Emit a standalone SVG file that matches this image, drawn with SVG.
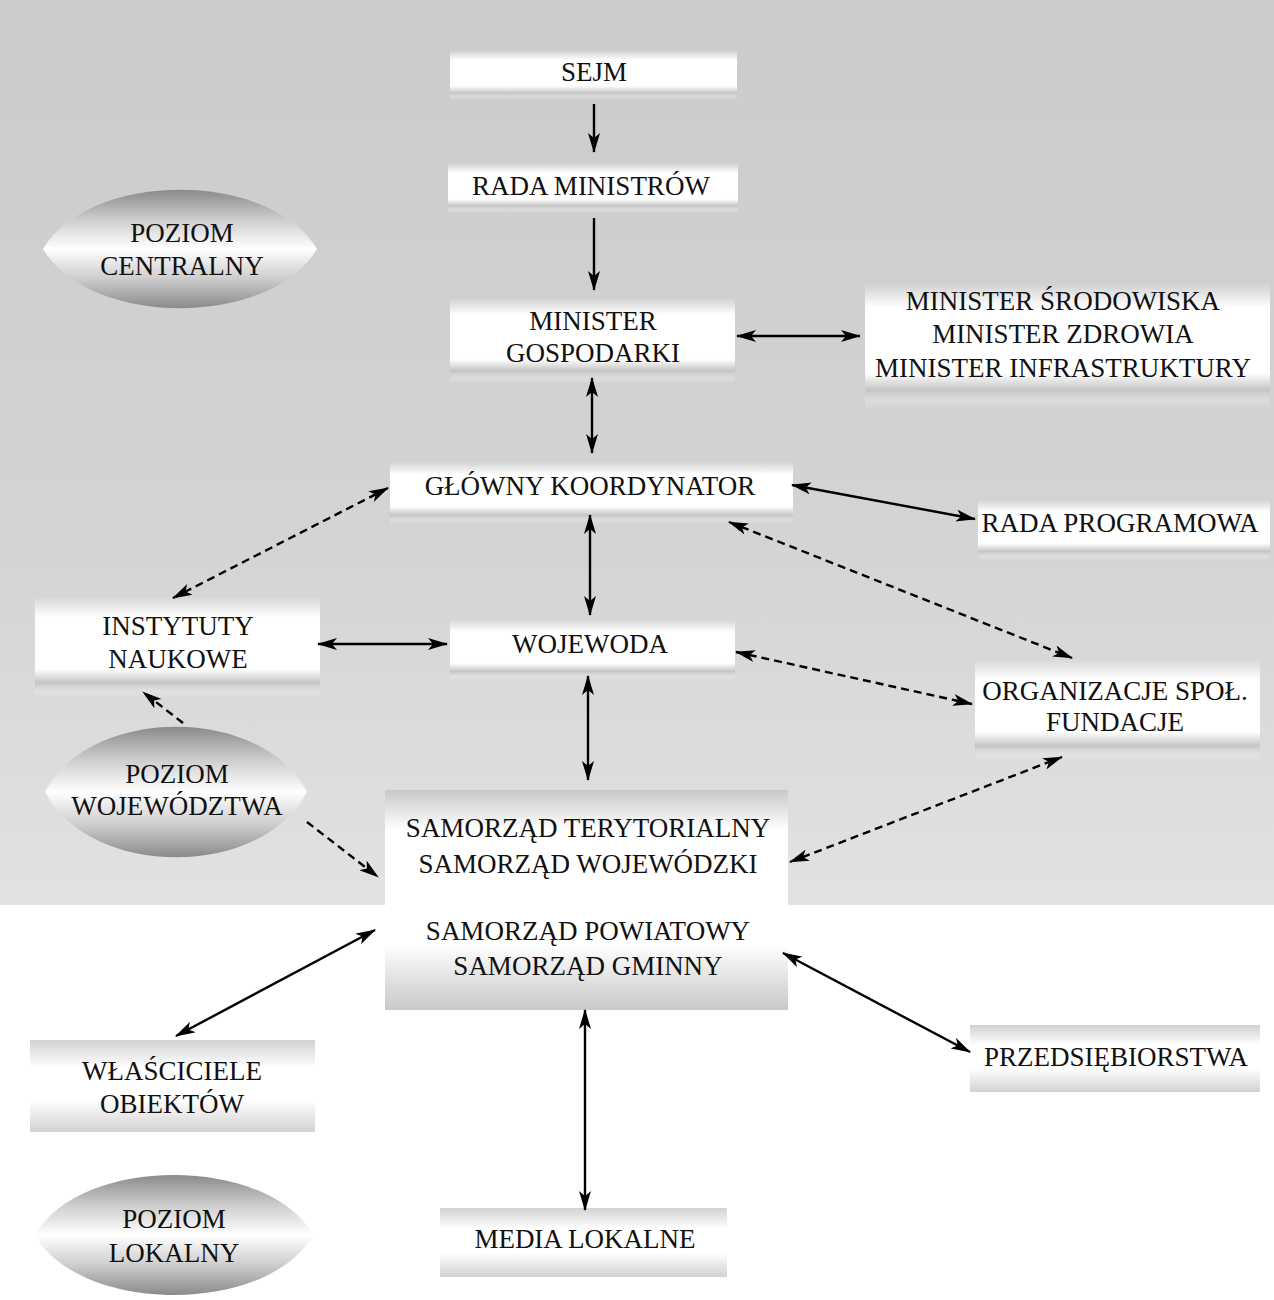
<svg xmlns="http://www.w3.org/2000/svg" width="1274" height="1300" viewBox="0 0 1274 1300" font-family="'Liberation Serif', 'DejaVu Serif', serif">
<defs>
<linearGradient id="bg" x1="0" y1="0" x2="0" y2="1">
<stop offset="0" stop-color="#cbcbcb"/>
<stop offset="0.6" stop-color="#d4d4d4"/>
<stop offset="1" stop-color="#e2e2e2"/>
</linearGradient>
<linearGradient id="box" x1="0" y1="0" x2="0" y2="1">
<stop offset="0" stop-color="#ffffff" stop-opacity="0"/>
<stop offset="0.2" stop-color="#ffffff"/>
<stop offset="0.72" stop-color="#ffffff"/>
<stop offset="0.86" stop-color="#c4c4c4"/>
<stop offset="1" stop-color="#ffffff" stop-opacity="0"/>
</linearGradient>
<linearGradient id="boxw" x1="0" y1="0" x2="0" y2="1">
<stop offset="0" stop-color="#d2d2d2"/>
<stop offset="0.3" stop-color="#ffffff"/>
<stop offset="0.65" stop-color="#ffffff"/>
<stop offset="1" stop-color="#d2d2d2"/>
</linearGradient>
<linearGradient id="sam" x1="0" y1="0" x2="0" y2="1">
<stop offset="0" stop-color="#c8c8c8"/>
<stop offset="0.18" stop-color="#ffffff"/>
<stop offset="0.7" stop-color="#ffffff"/>
<stop offset="1" stop-color="#c8c8c8"/>
</linearGradient>
<linearGradient id="ell" x1="0" y1="0" x2="0" y2="1">
<stop offset="0" stop-color="#8a8a8a"/>
<stop offset="0.25" stop-color="#cdcdcd"/>
<stop offset="0.5" stop-color="#ffffff"/>
<stop offset="0.75" stop-color="#cdcdcd"/>
<stop offset="1" stop-color="#8a8a8a"/>
</linearGradient>
<marker id="ah" viewBox="0 0 20 12" refX="19" refY="6" markerWidth="20" markerHeight="12" markerUnits="userSpaceOnUse" orient="auto-start-reverse">
<path d="M0,0 L20,6 L0,12 L5,6 z" fill="#000"/>
</marker>
</defs>
<style>
text{font-family:"Liberation Serif","DejaVu Serif",serif;font-size:27px;fill:#111;text-anchor:middle}
.c line{stroke:#000;stroke-width:2.4}
.c .d{stroke-dasharray:8 5}
.b{fill:url(#box)}
.w{fill:url(#boxw)}
.e{fill:url(#ell)}
</style>
<rect x="0" y="0" width="1274" height="905" fill="url(#bg)"/>
<rect x="0" y="905" width="1274" height="395" fill="#ffffff"/>

<g id="sejm"><rect class="b" x="450" y="50" width="287" height="50"/><text x="594" y="81">SEJM</text></g>
<g id="rada-ministrow"><rect class="b" x="448" y="163" width="290" height="50"/><text x="591" y="195">RADA MINISTRÓW</text></g>
<g id="minister-gospodarki"><rect class="b" x="450" y="298" width="285" height="85"/><text x="593" y="330">MINISTER</text><text x="593" y="362">GOSPODARKI</text></g>
<g id="ministrowie"><rect class="b" x="865" y="283" width="405" height="125"/><text x="1063" y="310">MINISTER ŚRODOWISKA</text><text x="1063" y="343">MINISTER ZDROWIA</text><text x="1063" y="377">MINISTER INFRASTRUKTURY</text></g>
<g id="glowny-koordynator"><rect class="b" x="390" y="462" width="403" height="62"/><text x="590" y="495">GŁÓWNY KOORDYNATOR</text></g>
<g id="rada-programowa"><rect class="b" x="978" y="500" width="292" height="60"/><text x="1120" y="532">RADA PROGRAMOWA</text></g>
<g id="instytuty"><rect class="b" x="35" y="597" width="285" height="100"/><text x="178" y="635">INSTYTUTY</text><text x="178" y="668">NAUKOWE</text></g>
<g id="wojewoda"><rect class="b" x="450" y="620" width="285" height="60"/><text x="590" y="653">WOJEWODA</text></g>
<g id="organizacje"><rect class="b" x="975" y="660" width="285" height="100"/><text x="1115" y="700">ORGANIZACJE SPOŁ.</text><text x="1115" y="731">FUNDACJE</text></g>
<g id="samorzad"><rect fill="url(#sam)" x="385" y="790" width="403" height="220"/><text x="588" y="837">SAMORZĄD TERYTORIALNY</text><text x="588" y="873">SAMORZĄD WOJEWÓDZKI</text><text x="588" y="940">SAMORZĄD POWIATOWY</text><text x="588" y="975">SAMORZĄD GMINNY</text></g>
<g id="wlasciciele"><rect class="w" x="30" y="1040" width="285" height="92"/><text x="172" y="1080">WŁAŚCICIELE</text><text x="172" y="1113">OBIEKTÓW</text></g>
<g id="przedsiebiorstwa"><rect class="w" x="970" y="1025" width="290" height="67"/><text x="1116" y="1066">PRZEDSIĘBIORSTWA</text></g>
<g id="media"><rect class="w" x="440" y="1208" width="287" height="69"/><text x="585" y="1248">MEDIA LOKALNE</text></g>

<g id="poziom-centralny"><path class="e" d="M43,249 C90,170 270,170 317,249 C270,328 90,328 43,249 z"/><text x="182" y="242">POZIOM</text><text x="182" y="275">CENTRALNY</text></g>
<g id="poziom-wojewodztwa"><path class="e" d="M45,792 C90,705 262,705 307,792 C262,879 90,879 45,792 z"/><text x="177" y="783">POZIOM</text><text x="177" y="815">WOJEWÓDZTWA</text></g>
<g id="poziom-lokalny"><path class="e" d="M35,1235 C80,1155 268,1155 313,1235 C268,1315 80,1315 35,1235 z"/><text x="174" y="1228">POZIOM</text><text x="174" y="1262">LOKALNY</text></g>

<g id="connectors" class="c">
<line x1="594" y1="104" x2="594" y2="152" marker-end="url(#ah)"/>
<line x1="594" y1="218" x2="594" y2="290" marker-end="url(#ah)"/>
<line x1="737" y1="336" x2="860" y2="336" marker-start="url(#ah)" marker-end="url(#ah)"/>
<line x1="592" y1="378" x2="592" y2="453" marker-start="url(#ah)" marker-end="url(#ah)"/>
<line x1="590" y1="515" x2="590" y2="615" marker-start="url(#ah)" marker-end="url(#ah)"/>
<line x1="792" y1="485" x2="975" y2="519" marker-start="url(#ah)" marker-end="url(#ah)"/>
<line class="d" x1="729" y1="522" x2="1072" y2="658" marker-start="url(#ah)" marker-end="url(#ah)"/>
<line class="d" x1="388" y1="488" x2="173" y2="598" marker-start="url(#ah)" marker-end="url(#ah)"/>
<line x1="318" y1="644" x2="447" y2="644" marker-start="url(#ah)" marker-end="url(#ah)"/>
<line class="d" x1="736" y1="652" x2="972" y2="704" marker-start="url(#ah)" marker-end="url(#ah)"/>
<line x1="588" y1="676" x2="588" y2="780" marker-start="url(#ah)" marker-end="url(#ah)"/>
<line class="d" x1="183" y1="723" x2="143" y2="692" marker-end="url(#ah)"/>
<line class="d" x1="307" y1="822" x2="378" y2="877" marker-end="url(#ah)"/>
<line class="d" x1="790" y1="862" x2="1062" y2="757" marker-start="url(#ah)" marker-end="url(#ah)"/>
<line x1="375" y1="930" x2="176" y2="1036" marker-start="url(#ah)" marker-end="url(#ah)"/>
<line x1="783" y1="953" x2="970" y2="1052" marker-start="url(#ah)" marker-end="url(#ah)"/>
<line x1="585" y1="1010" x2="585" y2="1210" marker-start="url(#ah)" marker-end="url(#ah)"/>
</g>
</svg>
